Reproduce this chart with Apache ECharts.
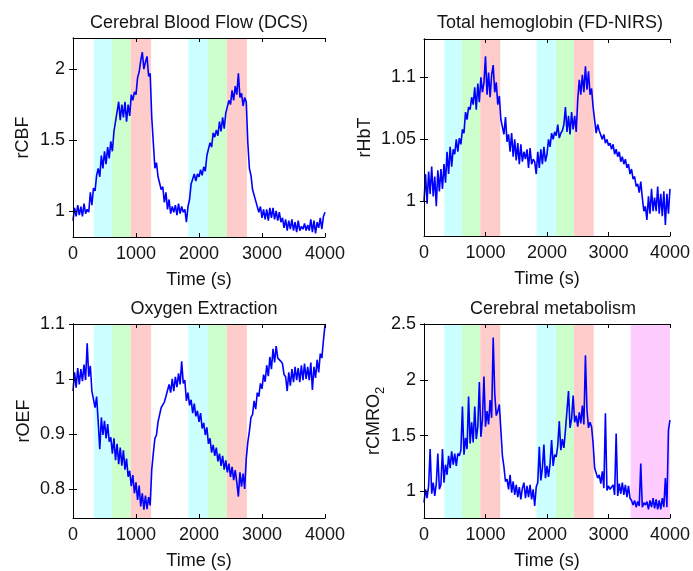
<!DOCTYPE html>
<html>
<head>
<meta charset="utf-8">
<script src="https://cdn.jsdelivr.net/npm/echarts@6/dist/echarts.min.js"></script>
<style>
html,body{margin:0;padding:0;background:#fff;}
#c{width:693px;height:571px;}
</style>
</head>
<body>
<div id="c"></div>
<script>
// ---- data ----
const STEP = 25; // seconds between samples
const titles = ['Cerebral Blood Flow (DCS)', 'Total hemoglobin (FD-NIRS)', 'Oxygen Extraction', 'Cerebral metabolism'];
const yNames = ['rCBF', 'rHbT', 'rOEF', '{a|rCMRO}{b|2}'];
const xName = 'Time (s)';
const yTicks1 = [1, 1.5, 2];
const yTicks2 = [1, 1.05, 1.1];
const yTicks3 = [0.8, 0.9, 1, 1.1];
const yTicks4 = [1, 1.5, 2, 2.5];
const yRange1 = [0.815, 2.22];
const yRange2 = [0.972, 1.131];
const yRange3 = [0.747, 1.1];
const yRange4 = [0.763, 2.5];
// stimulation periods [start, end, kind]
const bands = [
  [330, 620, 'c'], [620, 915, 'g'], [915, 1240, 'r'],
  [1830, 2145, 'c'], [2145, 2440, 'g'], [2440, 2760, 'r']
];
const bandsExtra4 = [[3360, 4000, 'm']];

const rCBF = [
  0.93, 1.02, 0.96, 1.04, 0.97, 1.03, 0.96, 1.05, 0.98, 1.01,
  0.99, 1.13, 1.04, 1.16, 1.14, 1.25, 1.30, 1.24, 1.39, 1.30,
  1.42, 1.33, 1.45, 1.37, 1.49, 1.42, 1.56, 1.55, 1.70, 1.77,
  1.64, 1.75, 1.66, 1.77, 1.63, 1.75, 1.67, 1.82, 1.78, 1.84,
  1.82, 1.94, 1.98, 2.06, 2.12, 2.00, 2.05, 2.09, 1.95, 1.97,
  1.66, 1.48, 1.30, 1.34, 1.24, 1.25, 1.15, 1.17, 1.06, 1.13,
  1.01, 1.08, 0.98, 1.03, 0.99, 1.04, 0.97, 1.05, 0.98, 1.03,
  0.99, 1.01, 0.92, 1.03, 1.08, 1.19, 1.20, 1.26, 1.21, 1.26,
  1.24, 1.29, 1.25, 1.31, 1.28, 1.39, 1.40, 1.48, 1.45, 1.55,
  1.52, 1.57, 1.53, 1.63, 1.56, 1.66, 1.58, 1.69, 1.70, 1.78,
  1.75, 1.85, 1.78, 1.88, 1.82, 1.97, 1.80, 1.83, 1.74, 1.80,
  1.77, 1.48, 1.30, 1.25, 1.15, 1.15, 1.07, 1.08, 0.99, 1.03,
  0.95, 1.01, 0.94, 1.01, 0.93, 1.02, 0.95, 1.02, 0.94, 1.00,
  0.93, 0.99, 0.92, 0.95, 0.88, 0.94, 0.86, 0.93, 0.87, 0.94,
  0.86, 0.92, 0.85, 0.93, 0.86, 0.89, 0.87, 0.91, 0.86, 0.90,
  0.86, 0.94, 0.85, 0.93, 0.84, 0.92, 0.88, 0.95, 0.87, 0.96,
  0.99
];
const rHbT = [
  1.000, 1.022, 0.998, 1.024, 1.006, 1.028, 1.004, 1.020, 0.996, 1.025,
  1.008, 1.026, 1.010, 1.030, 1.015, 1.040, 1.022, 1.044, 1.028, 1.042,
  1.038, 1.050, 1.040, 1.051, 1.046, 1.058, 1.055, 1.072, 1.066, 1.076,
  1.074, 1.084, 1.078, 1.092, 1.074, 1.095, 1.080, 1.100, 1.088, 1.096,
  1.117, 1.086, 1.104, 1.084, 1.102, 1.110, 1.088, 1.096, 1.078, 1.085,
  1.066, 1.066, 1.054, 1.068, 1.048, 1.054, 1.040, 1.055, 1.036, 1.050,
  1.033, 1.047, 1.030, 1.046, 1.032, 1.040, 1.034, 1.042, 1.027, 1.043,
  1.030, 1.034, 1.032, 1.022, 1.040, 1.027, 1.042, 1.030, 1.044, 1.032,
  1.038, 1.050, 1.044, 1.055, 1.050, 1.056, 1.053, 1.062, 1.051, 1.055,
  1.057, 1.062, 1.076, 1.056, 1.069, 1.054, 1.072, 1.058, 1.069, 1.056,
  1.082, 1.098, 1.086, 1.102, 1.088, 1.109, 1.090, 1.105, 1.086, 1.091,
  1.076, 1.076, 1.055, 1.062, 1.057, 1.058, 1.050, 1.054, 1.047, 1.050,
  1.045, 1.047, 1.042, 1.046, 1.038, 1.042, 1.036, 1.040, 1.032, 1.036,
  1.030, 1.034, 1.027, 1.030, 1.022, 1.026, 1.018, 1.020, 1.012, 1.014,
  1.007, 1.016, 1.003, 0.992, 0.996, 0.985, 1.004, 0.990, 1.010, 0.992,
  1.003, 0.992, 1.012, 0.990, 1.006, 0.988, 1.008, 0.981, 1.006, 0.990,
  1.010
];
const rOEF = [
  0.978, 1.012, 0.984, 1.020, 0.990, 1.018, 0.996, 1.026, 0.998, 1.065,
  1.004, 1.024, 0.978, 0.975, 0.948, 0.968, 0.922, 0.872, 0.930, 0.898,
  0.924, 0.892, 0.918, 0.886, 0.894, 0.864, 0.892, 0.852, 0.882, 0.845,
  0.875, 0.842, 0.870, 0.835, 0.855, 0.822, 0.833, 0.805, 0.825, 0.792,
  0.812, 0.780, 0.806, 0.768, 0.792, 0.762, 0.788, 0.763, 0.785, 0.770,
  0.835, 0.865, 0.892, 0.898, 0.922, 0.925, 0.948, 0.946, 0.958, 0.968,
  0.965, 0.990, 0.975, 1.000, 0.978, 1.004, 0.985, 1.010, 0.990, 1.032,
  0.992, 0.998, 0.960, 0.975, 0.952, 0.962, 0.938, 0.955, 0.932, 0.942,
  0.922, 0.938, 0.910, 0.920, 0.898, 0.912, 0.882, 0.892, 0.866, 0.880,
  0.860, 0.875, 0.850, 0.864, 0.842, 0.860, 0.835, 0.852, 0.830, 0.846,
  0.822, 0.840, 0.816, 0.834, 0.812, 0.786, 0.830, 0.804, 0.828, 0.800,
  0.855, 0.885, 0.905, 0.930, 0.935, 0.960, 0.945, 0.975, 0.968, 0.992,
  0.982, 1.008, 0.995, 1.025, 1.005, 1.040, 1.018, 1.055, 1.030, 1.060,
  1.038, 1.040, 1.032, 1.028, 1.008, 1.004, 0.978, 1.012, 0.988, 1.018,
  0.994, 1.022, 0.998, 1.020, 0.994, 1.025, 0.998, 1.028, 1.000, 1.022,
  0.998, 1.030, 0.980, 1.022, 1.002, 1.035, 1.012, 1.046, 1.038, 1.070,
  1.098
];
const rCMRO2 = [
  0.90, 1.02, 0.94, 1.05, 1.38, 0.98, 1.08, 0.96, 1.07, 1.34,
  1.02, 1.06, 1.38, 1.08, 1.24, 1.15, 1.32, 1.21, 1.36, 1.24,
  1.34, 1.23, 1.34, 1.32, 1.37, 1.76, 1.33, 1.48, 1.38, 1.85,
  1.43, 1.62, 1.44, 1.76, 1.47, 1.58, 1.98, 1.49, 1.64, 2.03,
  1.58, 1.72, 1.60, 1.82, 1.66, 2.38, 1.88, 1.68, 1.72, 1.78,
  1.55, 1.32, 1.22, 1.09, 1.11, 1.02, 1.15, 0.99, 1.09, 0.97,
  1.06, 0.95, 1.04, 0.93, 1.03, 1.08, 0.94, 1.05, 0.95, 1.06,
  0.93, 1.02, 0.87, 1.04, 1.08, 1.40, 1.10, 1.21, 1.42, 1.12,
  1.23, 1.13, 1.25, 1.46, 1.23, 1.33, 1.31, 1.41, 1.63, 1.37,
  1.47, 1.39, 1.55, 1.55, 1.90, 1.57, 1.65, 1.86, 1.62, 1.68,
  1.58, 1.71, 1.61, 1.77, 1.60, 2.22, 1.73, 1.57, 1.62, 1.58,
  1.43, 1.21, 1.20, 1.12, 1.15, 1.07, 1.18, 1.03, 1.70, 1.01,
  1.05, 1.02, 1.01, 1.06, 0.97, 1.52, 0.96, 1.07, 0.98, 1.08,
  0.97, 1.06, 0.95, 1.05, 0.94, 0.92, 0.88, 0.92, 0.86, 0.91,
  0.87, 1.25, 0.86, 0.90, 0.88, 0.91, 0.84, 0.92, 0.86, 0.94,
  0.85, 0.93, 0.84, 0.92, 0.84, 0.94, 0.86, 1.12, 0.86, 1.55,
  1.64
];

// ---- styling / layout ----
const FONT = 'Liberation Sans, Arial, Helvetica, sans-serif';
const TXT = '#141414';
const bandColor = { c: '#ccffff', g: '#ccffcc', r: '#ffcccc', m: '#ffccff' };
const grids = [
  { left: 73, top: 38, width: 252, height: 199 },
  { left: 424, top: 39, width: 251, height: 197 },
  { left: 73, top: 324, width: 252, height: 197 },
  { left: 424, top: 324, width: 251, height: 196 }
];
const titleX = [194, 545, 199, 548];
const titleTop = [9, 9, 295, 295];
const yGap = [41, 50, 40, 36];
const series = [rCBF, rHbT, rOEF, rCMRO2];
const yTicks = [yTicks1, yTicks2, yTicks3, yTicks4];
const yRanges = [yRange1, yRange2, yRange3, yRange4];

function toPairs(vals) { return vals.map((v, i) => [i * STEP, v]); }
function bandAreas(list) {
  return list.map(b => [{ xAxis: b[0], itemStyle: { color: bandColor[b[2]] } }, { xAxis: b[1] }]);
}

const axLine = { show: true, lineStyle: { color: '#000', width: 1 } };
const tick = { show: true, inside: true, length: 4, lineStyle: { color: '#000', width: 1 } };
const option = {
  animation: false,
  backgroundColor: '#fff',
  title: [], grid: [], xAxis: [], yAxis: [], series: []
};

for (let i = 0; i < 4; i++) {
  option.title.push({
    text: titles[i], left: titleX[i], top: titleTop[i], textAlign: 'center',
    textStyle: { fontFamily: FONT, fontSize: 18, fontWeight: 'normal', color: TXT }
  });
  option.grid.push(Object.assign({ containLabel: false }, grids[i]));
  option.xAxis.push({
    type: 'value', gridIndex: i, position: 'bottom', min: 0, max: 4000, interval: 1000,
    name: xName, nameLocation: 'middle', nameGap: 34,
    nameTextStyle: { fontFamily: FONT, fontSize: 18, color: TXT },
    axisLine: axLine, splitLine: { show: false }, axisTick: tick, z: 10,
    axisLabel: { fontFamily: FONT, fontSize: 18, color: TXT, margin: 8, formatter: v => String(v) }
  });
  option.xAxis.push({
    type: 'value', gridIndex: i, position: 'top', min: 0, max: 4000, interval: 1000,
    axisLine: axLine, splitLine: { show: false }, axisTick: tick, z: 10,
    axisLabel: { show: false }
  });
  const yr = yRanges[i];
  const yNameStyle = { fontFamily: FONT, fontSize: 18, color: TXT };
  if (i === 3) {
    yNameStyle.rich = {
      a: { fontFamily: FONT, fontSize: 18, color: TXT, lineHeight: 26, verticalAlign: 'middle' },
      b: { fontFamily: FONT, fontSize: 13, color: TXT, lineHeight: 12, verticalAlign: 'bottom' }
    };
  }
  option.yAxis.push({
    type: 'value', gridIndex: i, position: 'left', min: yr[0], max: yr[1],
    name: yNames[i], nameLocation: 'middle', nameGap: yGap[i], nameRotate: 90,
    nameTextStyle: yNameStyle, z: 10,
    axisLine: axLine, splitLine: { show: false },
    axisTick: Object.assign({ customValues: yTicks[i] }, tick),
    axisLabel: { fontFamily: FONT, fontSize: 18, color: TXT, margin: 8, customValues: yTicks[i] }
  });
  option.yAxis.push({
    type: 'value', gridIndex: i, position: 'right', min: yr[0], max: yr[1], z: 10,
    axisLine: axLine, splitLine: { show: false },
    axisTick: Object.assign({ customValues: yTicks[i] }, tick),
    axisLabel: { show: false, customValues: yTicks[i] }
  });
  const areaList = i === 3 ? bands.concat(bandsExtra4) : bands;
  option.series.push({
    type: 'line', xAxisIndex: i * 2, yAxisIndex: i * 2,
    data: toPairs(series[i]), showSymbol: false, symbol: 'none',
    lineStyle: { color: '#0000ff', width: 1.6 }, clip: true,
    markArea: { silent: true, data: bandAreas(areaList) },
    z: 2
  });
}

const chart = echarts.init(document.getElementById('c'), null, { renderer: 'canvas' });
chart.setOption(option);
</script>
</body>
</html>
